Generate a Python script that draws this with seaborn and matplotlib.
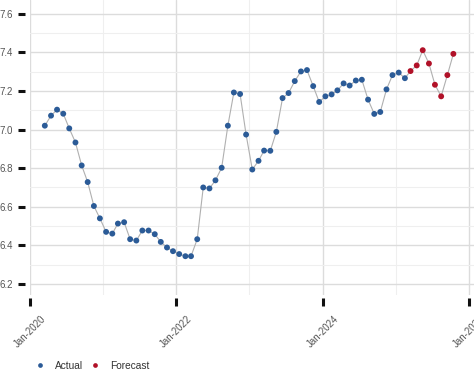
import numpy as np
import pandas as pd
import seaborn as sns
import matplotlib
matplotlib.use('Agg')
from matplotlib import pyplot as plt
import matplotlib.dates as mdates
from matplotlib.ticker import MultipleLocator

# monthly values, Mar-2020 .. Feb-2025 actual, Mar-2025 .. Oct-2025 forecast
actual = [7.020, 7.072, 7.103, 7.082, 7.006, 6.933, 6.814, 6.728, 6.604, 6.540,
          6.470, 6.461, 6.513, 6.520, 6.432, 6.425, 6.477, 6.477, 6.458, 6.418,
          6.389, 6.370, 6.355, 6.344, 6.344, 6.432, 6.700, 6.695, 6.737, 6.802,
          7.020, 7.192, 7.184, 6.974, 6.793, 6.838, 6.891, 6.890, 6.988, 7.163,
          7.189, 7.251, 7.301, 7.308, 7.225, 7.143, 7.172, 7.182, 7.203, 7.239,
          7.228, 7.254, 7.258, 7.155, 7.081, 7.091, 7.208, 7.282, 7.295, 7.266]
forecast = [7.303, 7.332, 7.411, 7.342, 7.232, 7.172, 7.282, 7.392]
start_month = '2020-03-01'
series_labels = ['Actual', 'Forecast']
palette = {'Actual': '#2b5b97', 'Forecast': '#b11128'}

dates = pd.date_range(start_month, periods=len(actual) + len(forecast), freq='MS') + pd.Timedelta(days=14)
df = pd.DataFrame({
    'date': dates,
    'value': actual + forecast,
    'kind': [series_labels[0]] * len(actual) + [series_labels[1]] * len(forecast),
})

sns.set_style('white')
plt.rcParams['font.family'] = ['Liberation Sans', 'DejaVu Sans']

fig = plt.figure(figsize=(4.74, 3.90), dpi=100)
ax = fig.add_axes([30 / 474, 1 - 295 / 390, 444 / 474, 295 / 390])

sns.lineplot(data=df, x='date', y='value', color='#b0b0b0', linewidth=0.8, ax=ax, zorder=2)
sns.scatterplot(data=df, x='date', y='value', hue='kind', palette=palette, s=18,
                edgecolor='none', ax=ax, zorder=3)

ax.set_xlim(pd.Timestamp('2020-01-01'), pd.Timestamp('2026-01-26'))
ax.set_ylim(6.143, 7.671)

ax.xaxis.set_major_locator(mdates.YearLocator(2))
ax.xaxis.set_minor_locator(mdates.YearLocator(1))
ax.xaxis.set_major_formatter(mdates.DateFormatter('Jan-%Y'))
ax.yaxis.set_major_locator(MultipleLocator(0.2))
ax.yaxis.set_minor_locator(MultipleLocator(0.1))
ax.yaxis.set_major_formatter(matplotlib.ticker.FormatStrFormatter('%.1f'))

ax.grid(which='major', color='#dcdcdc', linewidth=1.0)
ax.grid(which='minor', color='#efefef', linewidth=0.8)
ax.set_axisbelow(True)

for s in ax.spines.values():
    s.set_visible(False)
ax.spines['left'].set_position(('outward', 3.6))
ax.spines['bottom'].set_position(('outward', 2.2))

ax.tick_params(axis='y', which='major', length=5, width=2.2, color='#111111',
               labelsize=7, labelcolor='#555555', pad=3.5, left=True)
ax.tick_params(axis='x', which='major', length=5.5, width=2.2, color='#111111',
               labelsize=7, labelcolor='#555555', pad=6, bottom=True)
ax.tick_params(which='minor', length=0)
for lab in ax.get_xticklabels():
    lab.set_rotation(45)
    lab.set_ha('center')
    lab.set_va('top')

ax.set_xlabel('')
ax.set_ylabel('')

handles, labels = ax.get_legend_handles_labels()
ax.legend(handles, labels, loc='center left', bbox_to_anchor=(26 / 474, 1 - 366 / 390),
          bbox_transform=fig.transFigure, ncol=2, frameon=False, fontsize=7.3,
          labelcolor='#333333', markerscale=0.8, handlelength=1.0,
          handletextpad=1.0, columnspacing=0.6)

fig.savefig('out.png', dpi=100)
